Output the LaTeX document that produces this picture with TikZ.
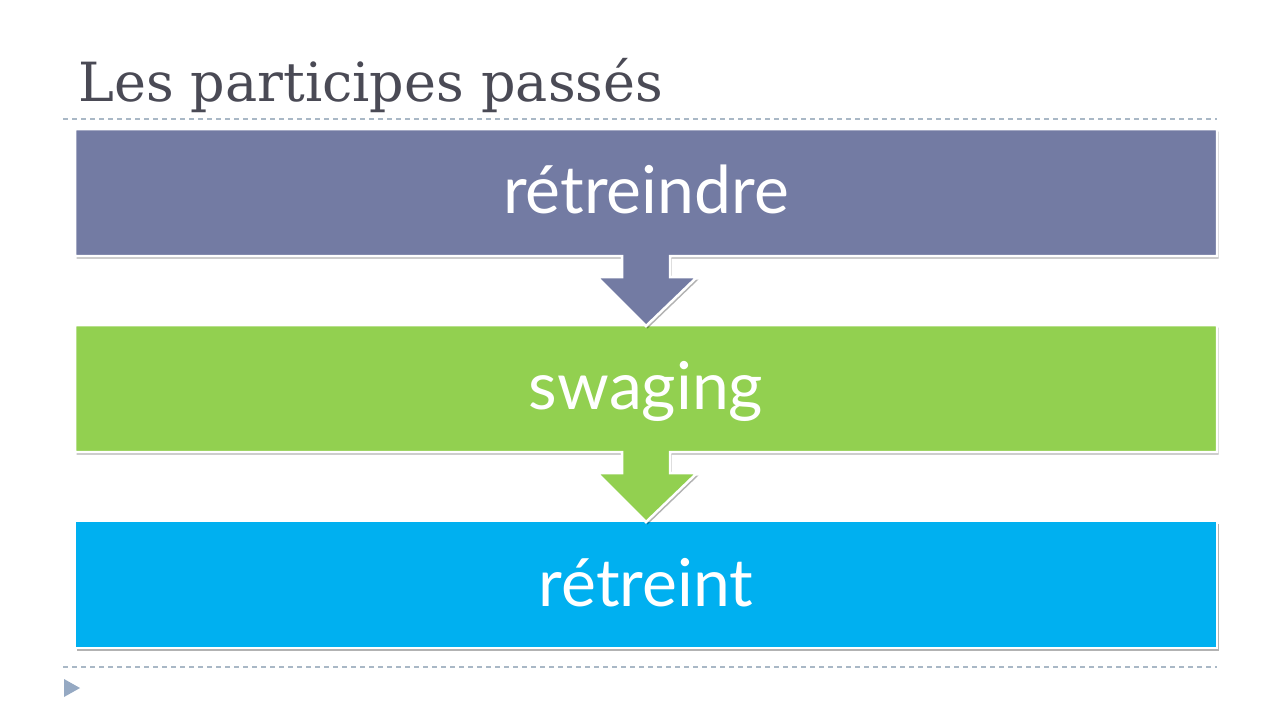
\documentclass[tikz,border=0pt]{standalone}
\usepackage{fontspec}
\setmainfont{DejaVu Serif}
\newfontfamily\boxfont{Lato}
\usetikzlibrary{shadows}
\definecolor{cTop}{HTML}{737BA3}
\definecolor{cMid}{HTML}{92D050}
\definecolor{cBot}{HTML}{00B0F0}
\definecolor{cTitle}{HTML}{4A4A55}
\definecolor{cDash}{HTML}{A9B8C6}
\definecolor{cTri}{HTML}{95A9C3}
\tikzset{
  stage/.style={draw=white, line width=2.5pt, line join=miter,
    drop shadow={shadow xshift=1.5pt, shadow yshift=-2.5pt, opacity=0.3, fill=black}},
  label/.style={text=white, font=\boxfont\fontsize{66}{70}\selectfont, inner sep=0pt, anchor=base},
  rule/.style={draw=cDash, line width=1.2pt, dash pattern=on 5pt off 4pt}
}
\begin{document}
\begin{tikzpicture}[x=1pt,y=-1pt]
\useasboundingbox (0,0) rectangle (1280,720);
\fill[white] (0,0) rectangle (1280,720);
% title
\node[anchor=base west, inner sep=0pt, text=cTitle, font=\fontsize{54}{60}\selectfont] (title) at (78,101) {Les participes passés};
% rules
\coordinate (r1a) at (63,119); \coordinate (r1b) at (1217,119);
\coordinate (r2a) at (63,667); \coordinate (r2b) at (1217,667);
\draw[rule] (r1a) -- (r1b);
\draw[rule] (r2a) -- (r2b);
% bottom box
\path[stage, fill=cBot] (75,521) rectangle (1217,648);
% middle box with arrow
\path[stage, fill=cMid] (75,325) -- (1217,325) -- (1217,452) -- (670,452) -- (670,473) -- (697,473) -- (646,522) -- (597,473) -- (622,473) -- (622,452) -- (75,452) -- cycle;
% top box with arrow
\path[stage, fill=cTop] (75,129) -- (1217,129) -- (1217,256) -- (670,256) -- (670,277) -- (697,277) -- (646,326) -- (597,277) -- (622,277) -- (622,256) -- (75,256) -- cycle;
% labels
\node[label] (t1) at (646,213) {rétreindre};
\node[label] (t2) at (646,409) {swaging};
\node[label] (t3) at (646,606) {rétreint};
% bullet triangle
\fill[cTri] (64,679) -- (80,688) -- (64,697) -- cycle;
\end{tikzpicture}
\end{document}
